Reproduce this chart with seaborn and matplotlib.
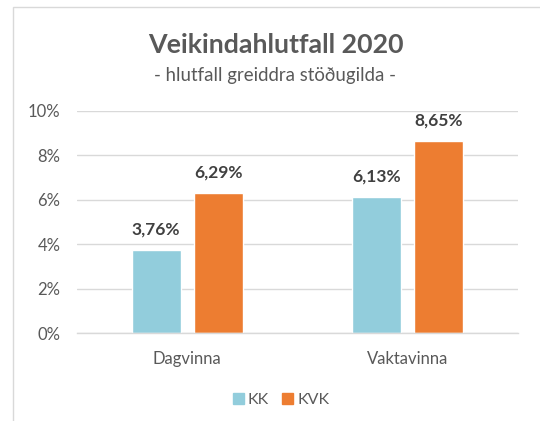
import matplotlib
matplotlib.use("Agg")
import matplotlib.pyplot as plt
import seaborn as sns
import pandas as pd
from matplotlib.patches import Rectangle
from matplotlib.ticker import FuncFormatter

categories = ["Dagvinna", "Vaktavinna"]
series = ["KK", "KVK"]
kk_values = [3.76, 6.13]
kvk_values = [6.29, 8.65]
yticks = [0, 2, 4, 6, 8, 10]

df = pd.DataFrame({
    "cat": categories * 2,
    "series": [series[0]] * 2 + [series[1]] * 2,
    "val": kk_values + kvk_values,
})

sns.set_theme(style="white")
plt.rcParams["font.family"] = ["Lato", "DejaVu Sans"]

W, H = 540, 421
fig = plt.figure(figsize=(W / 100, H / 100), dpi=100)
ax = fig.add_axes([77 / W, 1 - 333 / H, (518 - 77) / W, (333 - 111) / H])

colors = {"KK": "#92CDDC", "KVK": "#ED7D31"}
sns.barplot(data=df, x="cat", y="val", hue="series", palette=colors,
            width=0.564, gap=0.21, ax=ax, legend=False, saturation=1)

ax.set_ylim(0, 10)
ax.set_xlim(-0.5, 1.5)
ax.set_yticks(yticks)
ax.yaxis.set_major_formatter(FuncFormatter(lambda v, p: f"{int(v)}%"))
ax.grid(axis="y", color="#D9D9D9", linewidth=1)
ax.set_axisbelow(True)
for s in ["top", "right", "left"]:
    ax.spines[s].set_visible(False)
ax.spines["bottom"].set_color("#D9D9D9")
ax.spines["bottom"].set_linewidth(1)
ax.tick_params(axis="both", length=0, labelsize=12, labelcolor="#595959")
ax.tick_params(axis="x", pad=13)
ax.tick_params(axis="y", pad=12)
ax.set_xlabel("")
ax.set_ylabel("")

for cont in ax.containers:
    labels = [f"{v:.2f}%".replace(".", ",") for v in cont.datavalues]
    ax.bar_label(cont, labels=labels, padding=9, fontsize=12.5,
                 fontweight="bold", color="#404040")

fig.text(276 / W, 1 - 45 / H, "Veikindahlutfall 2020", ha="center", va="center",
         fontsize=19.3, fontweight="bold", color="#595959")
fig.text(275 / W, 1 - 75 / H, "- hlutfall greiddra stöðugilda -", ha="center",
         va="center", fontsize=13.4, color="#595959")

# legend
handles = [Rectangle((0, 0), 1, 1, color=colors[s]) for s in series]
fig.legend(handles, series, loc="center", bbox_to_anchor=(281 / W, 1 - 400 / H),
           ncol=2, frameon=False, fontsize=11.5, labelcolor="#595959",
           handlelength=0.7, handleheight=0.7, handletextpad=0.25, columnspacing=0.8)

fig.patches.append(Rectangle((13 / W, -0.1), 1.2, (1 - 7 / H) + 0.1,
                             transform=fig.transFigure, fill=False,
                             edgecolor="#D9D9D9", linewidth=1))

fig.savefig("out.png", dpi=100, facecolor="white")
